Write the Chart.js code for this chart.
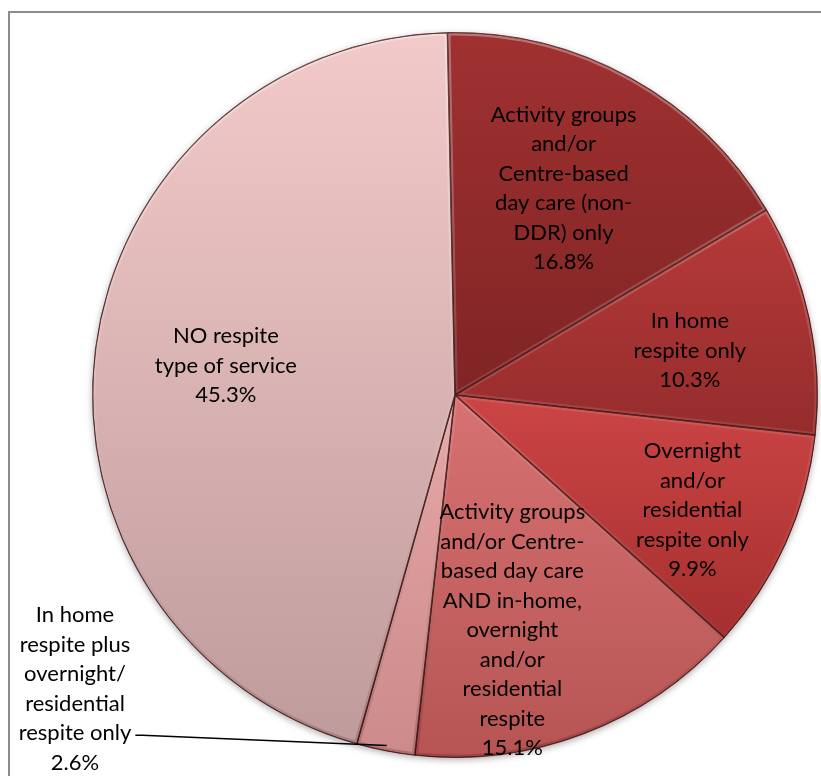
<!DOCTYPE html>
<html>
<head>
<meta charset="utf-8">
<script src="https://cdn.jsdelivr.net/npm/chart.js@4/dist/chart.umd.min.js"></script>
<style>
    html, body { margin: 0; padding: 0; background: #fff; }
    #wrap { position: relative; width: 821px; height: 776px; overflow: hidden; }
    #frame {
        position: absolute; left: 8px; top: 11px; width: 900px; height: 900px;
        border-top: 2px solid #8c8c8c; border-left: 2px solid #8c8c8c;
        pointer-events: none;
    }
</style>
</head>
<body>
<div id="wrap">
    <canvas id="respiteChart" width="821" height="776"></canvas>
    <div id="frame"></div>
</div>
<script>
// Categories (one entry per slice, already broken into lines) and their shares in %
const categories = [
    ['Activity groups', 'and/or', 'Centre-based', 'day care (non-', 'DDR) only'],
    ['In home', 'respite only'],
    ['Overnight', 'and/or', 'residential', 'respite only'],
    ['Activity groups', 'and/or Centre-', 'based day care', 'AND in-home,', 'overnight', 'and/or', 'residential', 'respite'],
    ['In home', 'respite plus', 'overnight/', 'residential', 'respite only'],
    ['NO respite', 'type of service']
];
const shares = [16.8, 10.3, 9.9, 15.1, 2.6, 45.3];

// Slice shading, light (top) to dark (bottom)
const lightShade = ['#a03131', '#b73a3a', '#cc4545', '#d87272', '#e6a8a8', '#f3caca'];
const darkShade = ['#802424', '#952c2c', '#a62f2f', '#b65454', '#cc8a8a', '#bf9b9b'];

const ROTATION = -1.2; // degrees, first slice starts just left of 12 o'clock

// Vertical extent of a slice, worked out from the shares and the chart area
const sliceSpan = (chart, i) => {
    const a = chart.chartArea;
    const cx = (a.left + a.right) / 2, cy = (a.top + a.bottom) / 2;
    const r = Math.min(a.width, a.height) / 2;
    const total = shares.reduce((s, v) => s + v, 0);
    let before = 0;
    for (let k = 0; k < i; k++) before += shares[k];
    const a0 = (ROTATION - 90) * Math.PI / 180 + before / total * 2 * Math.PI;
    const a1 = a0 + shares[i] / total * 2 * Math.PI;
    const ys = [cy, cy + r * Math.sin(a0), cy + r * Math.sin(a1)];
    [Math.PI / 2, 3 * Math.PI / 2].forEach(t => {
        if (t >= a0 && t <= a1) ys.push(cy + r * Math.sin(t));
    });
    return [Math.min(...ys), Math.max(...ys)];
};

const sliceFill = (context) => {
    const chart = context.chart;
    const i = context.dataIndex;
    if (!chart.chartArea) return lightShade[i];
    const [top, bottom] = sliceSpan(chart, i);
    const g = chart.ctx.createLinearGradient(0, top, 0, bottom);
    g.addColorStop(0, lightShade[i]);
    g.addColorStop(1, darkShade[i]);
    return g;
};

// Soft drop shadow under the whole pie
const pieShadow = {
    id: 'pieShadow',
    beforeDatasetsDraw(chart) {
        const arc = chart.getDatasetMeta(0).data[0];
        if (!arc) return;
        const ctx = chart.ctx;
        ctx.save();
        ctx.shadowColor = 'rgba(0,0,0,0.35)';
        ctx.shadowBlur = 7;
        ctx.shadowOffsetY = 2;
        ctx.fillStyle = '#fff';
        ctx.beginPath();
        ctx.arc(arc.x, arc.y, arc.outerRadius, 0, Math.PI * 2);
        ctx.fill();
        ctx.restore();
    }
};

// Bevel on every slice: light edge on top, darker edge underneath
const pieBevel = {
    id: 'pieBevel',
    afterDatasetsDraw(chart) {
        const ctx = chart.ctx;
        chart.getDatasetMeta(0).data.forEach(arc => {
            const { x, y, startAngle, endAngle, outerRadius: r } =
                arc.getProps(['x', 'y', 'startAngle', 'endAngle', 'outerRadius']);
            ctx.save();
            ctx.beginPath();
            ctx.moveTo(x, y);
            ctx.arc(x, y, r, startAngle, endAngle);
            ctx.closePath();
            ctx.clip();
            const g = ctx.createLinearGradient(0, y - r, 0, y + r);
            g.addColorStop(0, 'rgba(255,255,255,0.32)');
            g.addColorStop(0.5, 'rgba(255,255,255,0.1)');
            g.addColorStop(1, 'rgba(50,0,0,0.2)');
            ctx.strokeStyle = g;
            ctx.lineWidth = 6;
            ctx.lineJoin = 'round';
            ctx.stroke();
            // thin dark seam back on top of the highlight
            ctx.strokeStyle = 'rgba(60,15,15,0.7)';
            ctx.lineWidth = 1.6;
            ctx.stroke();
            ctx.restore();
        });
    }
};

// Category + percentage labels, inside the slices or outside with a leader line
const sliceLabels = {
    id: 'sliceLabels',
    afterDatasetsDraw(chart, args, opts) {
        const ctx = chart.ctx;
        const meta = chart.getDatasetMeta(0);
        ctx.save();
        ctx.font = opts.font;
        ctx.fillStyle = '#000';
        ctx.textAlign = 'center';
        ctx.textBaseline = 'middle';
        meta.data.forEach((arc, i) => {
            const lines = categories[i].concat(shares[i].toFixed(1) + '%');
            const mid = (arc.startAngle + arc.endAngle) / 2;
            const place = opts.placement[i];
            let cx, cy;
            if (place.outside) {
                cx = arc.x + place.dx;
                cy = arc.y + place.dy;
            } else {
                const r = arc.outerRadius * place.r;
                cx = arc.x + Math.cos(mid) * r + (place.dx || 0);
                cy = arc.y + Math.sin(mid) * r + (place.dy || 0);
            }
            const top = cy - (lines.length - 1) / 2 * opts.lineHeight;
            lines.forEach((t, k) => ctx.fillText(t, cx, top + k * opts.lineHeight));

            if (place.outside) {
                const k = lines.length - 2;
                const w = ctx.measureText(lines[k]).width;
                const sx = cx + w / 2 + 4;
                const sy = top + k * opts.lineHeight + 2;
                const ex = arc.x + Math.cos(mid) * arc.outerRadius * 0.985;
                const ey = arc.y + Math.sin(mid) * arc.outerRadius * 0.985;
                ctx.strokeStyle = '#000';
                ctx.lineWidth = 1.5;
                ctx.beginPath();
                ctx.moveTo(sx, sy);
                ctx.lineTo(sx + 7, sy);
                ctx.lineTo(ex, ey);
                ctx.stroke();
            }
        });
        ctx.restore();
    }
};

new Chart(document.getElementById('respiteChart'), {
    type: 'pie',
    data: {
        labels: categories.map(l => l.join(' ')),
        datasets: [{
            data: shares,
            backgroundColor: sliceFill,
            borderColor: 'rgba(60,15,15,0.75)',
            borderWidth: 1
        }]
    },
    options: {
        responsive: false,
        animation: false,
        rotation: ROTATION,
        layout: { padding: { left: 92, right: 3, top: 32, bottom: 18 } },
        plugins: {
            legend: { display: false },
            tooltip: { enabled: false },
            sliceLabels: {
                font: '22px Lato',
                lineHeight: 29.5,
                placement: [
                    { r: 0.64, dx: -4, dy: -4 },
                    { r: 0.66, dx: 1, dy: 6 },
                    { r: 0.73, dx: -4, dy: 7 },
                    { r: 0.67, dx: -29, dy: 8 },
                    { outside: true, dx: -380, dy: 294 },
                    { r: 0.64, dx: 1 }
                ]
            }
        }
    },
    plugins: [pieShadow, pieBevel, sliceLabels]
});
</script>
</body>
</html>
